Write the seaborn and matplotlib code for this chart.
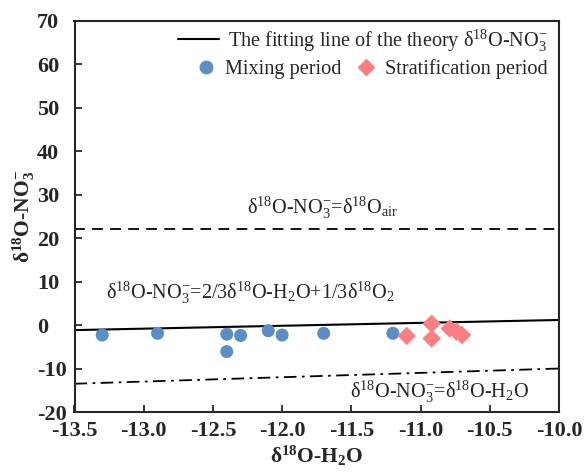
import numpy as np
import pandas as pd
import matplotlib
matplotlib.use("Agg")
import matplotlib.pyplot as plt
import seaborn as sns
from matplotlib.lines import Line2D

sns.set_style("ticks")
plt.rcParams["font.family"] = ["Liberation Serif", "DejaVu Serif"]
plt.rcParams["mathtext.fontset"] = "custom"
plt.rcParams["mathtext.rm"] = "Liberation Serif"
plt.rcParams["mathtext.it"] = "Liberation Serif:italic"
plt.rcParams["mathtext.bf"] = "Liberation Serif:bold"

# Measured isotope values
mixing_h2o = [-13.30, -12.90, -12.40, -12.40, -12.30, -12.10, -12.00, -11.70, -11.20]
mixing_no3 = [-2.3, -1.9, -2.1, -6.1, -2.4, -1.3, -2.3, -1.9, -1.9]
strat_h2o = [-11.10, -10.92, -10.92, -10.79, -10.74, -10.70]
strat_no3 = [-2.5, 0.3, -3.1, -0.8, -1.5, -2.3]

# Theoretical end-members
d18o_o2 = 23.5
d18o_air = 22.0
x_range = [-13.5, -10.0]

x_ticks = [-13.5, -13.0, -12.5, -12.0, -11.5, -11.0, -10.5, -10.0]
y_ticks = [-20, -10, 0, 10, 20, 30, 40, 50, 60, 70]

df = pd.DataFrame({
    "h2o": mixing_h2o + strat_h2o,
    "no3": mixing_no3 + strat_no3,
    "period": ["Mixing period"] * len(mixing_h2o) + ["Stratification period"] * len(strat_h2o),
})

blue = "#5b8fc3"
red = "#f97f84"
FS = 14.6

fig = plt.figure(figsize=(5.84, 4.72), dpi=100)
ax = fig.add_axes([74.5 / 584, 1 - 412 / 472, 484.5 / 584, 391.3 / 472])

xs = np.array(x_range)
fit_line = 2.0 / 3.0 * xs + d18o_o2 / 3.0
sns.lineplot(x=xs, y=fit_line, color="black", lw=1.5, ax=ax)
sns.lineplot(x=xs, y=[d18o_air, d18o_air], color="black", lw=1.3, ax=ax,
             linestyle=(0, (6, 4)))
sns.lineplot(x=xs, y=xs, color="black", lw=1.3, ax=ax,
             linestyle=(0, (7, 3, 1.5, 3)))

sns.scatterplot(data=df, x="h2o", y="no3", hue="period", style="period",
                palette={"Mixing period": blue, "Stratification period": red},
                markers={"Mixing period": "o", "Stratification period": "D"},
                s=88, linewidth=0, ax=ax, legend=False, zorder=3)

ax.set_xlim(-13.5, -10.0)
ax.set_ylim(-20, 70)
ax.set_xticks(x_ticks)
ax.set_yticks(y_ticks)
ax.set_xticklabels([f"{v:.1f}" for v in x_ticks])
ax.set_yticklabels([str(v) for v in y_ticks])
ax.tick_params(direction="in", length=5, width=1.3, labelsize=16,
               top=False, right=False)
ax.tick_params(axis="x", pad=6.5)
ax.tick_params(axis="y", pad=27)
for lab in ax.get_xticklabels():
    lab.set_fontweight("bold")
for lab in ax.get_yticklabels():
    lab.set_fontweight("bold")
    lab.set_horizontalalignment("left")
for sp in ax.spines.values():
    sp.set_linewidth(1.5)
    sp.set_visible(True)

ax.set_xlabel(r"δ$^{\mathbf{18}}$O-H$_{\mathbf{2}}$O", fontsize=15.5, fontweight="bold", labelpad=2)
ax.set_ylabel(r"δ$^{\mathbf{18}}$O-NO$_{\mathbf{3}}^{\mathbf{-}}$", fontsize=15.5, fontweight="bold", labelpad=0)

# Line annotations
ax.text(-12.256, 25.6, r"δ$^{18}$O-NO$_3^{-}$=δ$^{18}$O$_{\mathrm{air}}$", fontsize=FS,
        ha="left", va="baseline")
ax.text(-13.27, 6.0, r"δ$^{18}$O-NO$_3^{-}$=2/3δ$^{18}$O-H$_2$O+1/3δ$^{18}$O$_2$", fontsize=FS,
        ha="left", va="baseline")
ax.text(-11.51, -16.7, r"δ$^{18}$O-NO$_3^{-}$=δ$^{18}$O-H$_2$O", fontsize=FS,
        ha="left", va="baseline")

# Legend: theory line on its own row, sample groups side by side below
leg1 = ax.legend(handles=[Line2D([], [], color="black", lw=1.5)],
                 labels=[r"The fitting line of the theory δ$^{18}$O-NO$_3^{-}$"],
                 loc="center right", bbox_to_anchor=(0.977, 0.949), frameon=False,
                 fontsize=FS, handlelength=2.0, handletextpad=0.48,
                 borderaxespad=0, borderpad=0)
ax.add_artist(leg1)
handles = [Line2D([], [], marker="o", color=blue, lw=0, markersize=9),
           Line2D([], [], marker="D", color=red, lw=0, markersize=8)]
ax.legend(handles=handles, labels=["Mixing period", "Stratification period"],
          loc="center right", bbox_to_anchor=(0.977, 0.877), ncol=2, frameon=False,
          fontsize=FS, handlelength=1.0, handletextpad=0.46, columnspacing=0.7,
          borderaxespad=0, borderpad=0)

fig.savefig("out.png", dpi=100)
